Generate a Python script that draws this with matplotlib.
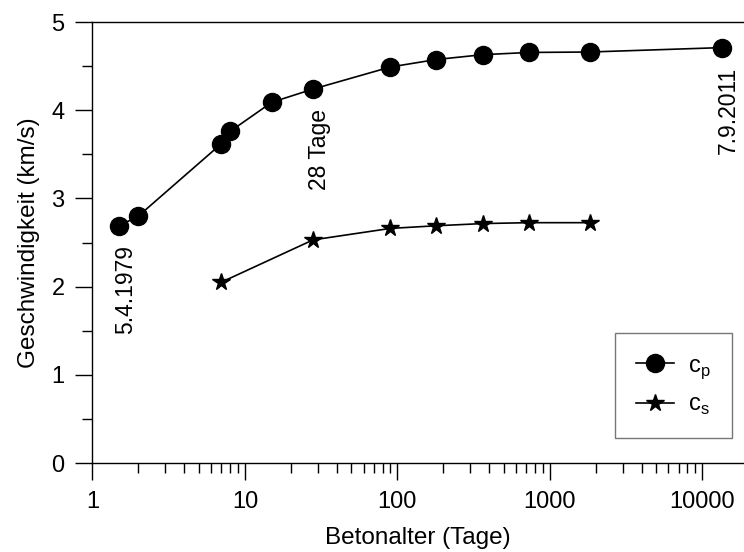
import matplotlib
matplotlib.use('Agg')
import matplotlib.pyplot as plt
from matplotlib.ticker import LogLocator, MultipleLocator, FixedLocator

plt.rcParams['font.family'] = ['Liberation Sans', 'DejaVu Sans']

# Betonalter (Tage) und Geschwindigkeiten (km/s)
tage_cp = [1.5, 2, 7, 8, 15, 28, 90, 180, 365, 730, 1825, 13500]
cp = [2.69, 2.80, 3.62, 3.76, 4.09, 4.24, 4.49, 4.575, 4.63, 4.655, 4.66, 4.71]

tage_cs = [7, 28, 90, 180, 365, 730, 1825]
cs = [2.05, 2.53, 2.66, 2.69, 2.715, 2.725, 2.725]

x_major = [1, 10, 100, 1000, 10000]
x_labels = ['1', '10', '100', '1000', '10000']

fig = plt.figure(figsize=(7.44, 5.52), dpi=100)
ax = fig.add_axes([0.1243, 0.1612, 0.8757, 0.7989])

ax.plot(tage_cp, cp, color='black', lw=1.2, marker='o', ms=13, label=r'c$_\mathregular{p}$')
ax.plot(tage_cs, cs, color='black', lw=1.2, marker='*', ms=13, label=r'c$_\mathregular{s}$')

ax.set_xscale('log')
ax.set_xlim(1, 18800)
ax.set_ylim(0, 5)
ax.xaxis.set_major_locator(FixedLocator(x_major))
ax.set_xticklabels(x_labels)
ax.xaxis.set_minor_locator(LogLocator(base=10, subs=range(2, 10), numticks=20))
ax.xaxis.set_minor_formatter(plt.NullFormatter())
ax.yaxis.set_major_locator(MultipleLocator(1))
ax.yaxis.set_minor_locator(MultipleLocator(0.5))

ax.tick_params(which='major', direction='out', length=12, width=1, labelsize=17, pad=8)
ax.tick_params(which='minor', direction='out', length=7, width=1)
ax.spines['right'].set_visible(False)
for s in ['left', 'bottom', 'top']:
    ax.spines[s].set_linewidth(1)

ax.set_xlabel('Betonalter (Tage)', fontsize=17.5, labelpad=10)
ax.set_ylabel('Geschwindigkeit (km/s)', fontsize=17.5, labelpad=8)

# Beschriftungen
ax.text(1.66, 2.47, '5.4.1979', rotation=90, ha='center', va='top', fontsize=16.5)
ax.text(31, 4.01, '28 Tage', rotation=90, ha='center', va='top', fontsize=16.5)
ax.text(14900, 4.49, '7.9.2011', rotation=90, ha='center', va='top', fontsize=16.5)

leg = ax.legend(loc='upper left', bbox_to_anchor=(0.8266, 0.396),
                bbox_transform=fig.transFigure, fontsize=17,
                frameon=True, fancybox=False, edgecolor='#555555',
                handlelength=1.6, handletextpad=0.6, borderpad=0.9,
                labelspacing=0.55, borderaxespad=0)
leg.get_frame().set_linewidth(1)

plt.savefig('out.png', dpi=100)
